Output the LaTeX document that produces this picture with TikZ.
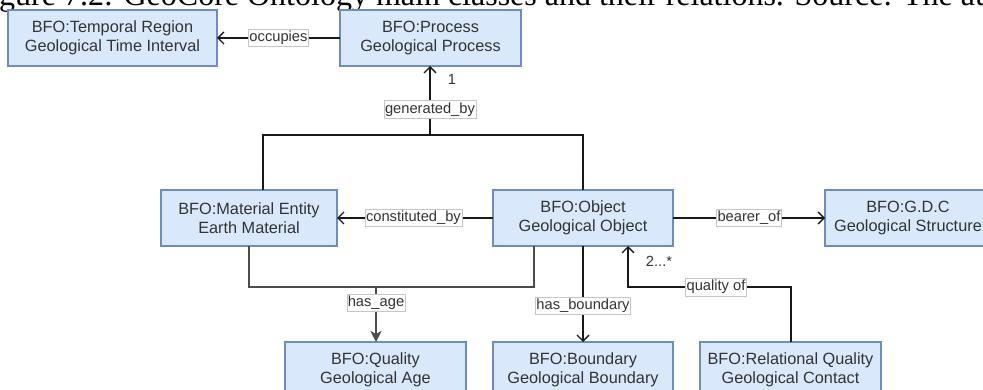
\documentclass[tikz,border=0pt]{standalone}
\usepackage{fontspec}
\setmainfont{Liberation Sans}
\newfontfamily\capfont{Liberation Serif}
\usetikzlibrary{arrows.meta}
\definecolor{boxfill}{HTML}{DAE8FC}
\definecolor{boxline}{HTML}{6C8EBF}
\definecolor{txt}{HTML}{333333}
\begin{document}
\begin{tikzpicture}[x=1pt,y=-1pt,
  cls/.style={draw=boxline, fill=boxfill, line width=1.3pt, minimum height=56pt,
    outer sep=0pt, inner sep=0pt, align=center, text=txt,
    font=\fontsize{16.3}{19}\selectfont},
  lbl/.style={draw=gray!45, line width=0.5pt, fill=white, inner xsep=1pt, inner ysep=0pt,
    minimum height=17.5pt, text=txt, font=\fontsize{14.7}{17}\selectfont},
  mult/.style={text=txt, inner sep=0pt, font=\fontsize{14.7}{17}\selectfont},
  edge/.style={draw=black!90, line width=1.35pt},
  agedge/.style={draw=black!70, line width=1.8pt},
  opentip/.style={-{Straight Barb[length=6pt,width=12pt,line width=1.3pt]}},
  filltip/.style={-{Stealth[length=11pt,width=11pt,inset=3pt]}}]
\path[use as bounding box] (0,0) rectangle (983,390);
\clip (0,0) rectangle (983,390);

% caption line of the page above the diagram
\node[anchor=base west, inner sep=0pt, font=\capfont\fontsize{32}{38}\selectfont] (cap)
  at (-1,5.5) {gure 7.2: GeoCore Ontology main classes and their relations. Source: The au};

% classes
\node[cls, minimum width=209pt] (tr)   at (112.5,38) {BFO:Temporal Region\\Geological Time Interval};
\node[cls, minimum width=181pt] (proc) at (430.5,38) {BFO:Process\\Geological Process};
\node[cls, minimum width=176pt] (mat)  at (249,218)  {BFO:Material Entity\\Earth Material};
\node[cls, minimum width=180pt] (obj)  at (583,218)  {BFO:Object\\Geological Object};
\node[cls, minimum width=166pt] (gdc)  at (908,218)  {BFO:G.D.C\\Geological Structure};
\node[cls, minimum width=181pt] (age)  at (375.5,370) {BFO:Quality\\Geological Age};
\node[cls, minimum width=180pt] (bnd)  at (583,370)  {BFO:Boundary\\Geological Boundary};
\node[cls, minimum width=181pt] (rel)  at (790.5,370) {BFO:Relational Quality\\Geological Contact};

% occupies
\draw[edge, opentip] (proc.west) -- node[lbl, pos=0.5] {occupies} (tr.east);

% generated_by
\coordinate (gl) at (263,135);
\coordinate (gr) at (583,135);
\coordinate (gm) at (430,135);
\draw[edge] (gl |- mat.north) -- (gl) -- (gr) -- (gr |- obj.north);
\draw[edge, opentip] (gm) -- node[lbl, pos=0.37] {generated\_by} (gm |- proc.south);
\node[mult] (m1) at (452,79.5) {1};

% constituted_by and bearer_of
\draw[edge, opentip] (obj.west) -- node[lbl, pos=0.51] {constituted\_by} (mat.east);
\draw[edge, opentip] (obj.east) -- node[lbl, pos=0.5] {bearer\_of} (gdc.west);

% has_age
\coordinate (al) at (249,287);
\coordinate (ar) at (534,287);
\coordinate (am) at (376,287);
\draw[agedge] (mat.south) -- (al) -- (ar) -- (ar |- obj.south);
\draw[agedge, filltip] (am) -- node[lbl, pos=0.29] {has\_age} (am |- age.north);

% has_boundary
\draw[edge, opentip] (obj.south) -- node[lbl, pos=0.62] {has\_boundary} (bnd.north);

% quality of
\coordinate (qr) at (791,287);
\coordinate (ql) at (628,287);
\draw[edge, opentip] (qr |- rel.north) -- (qr) -- node[lbl, pos=0.46] {quality of} (ql) -- (ql |- obj.south);
\node[mult] (m2) at (659,261) {2...*};
\end{tikzpicture}
\end{document}
